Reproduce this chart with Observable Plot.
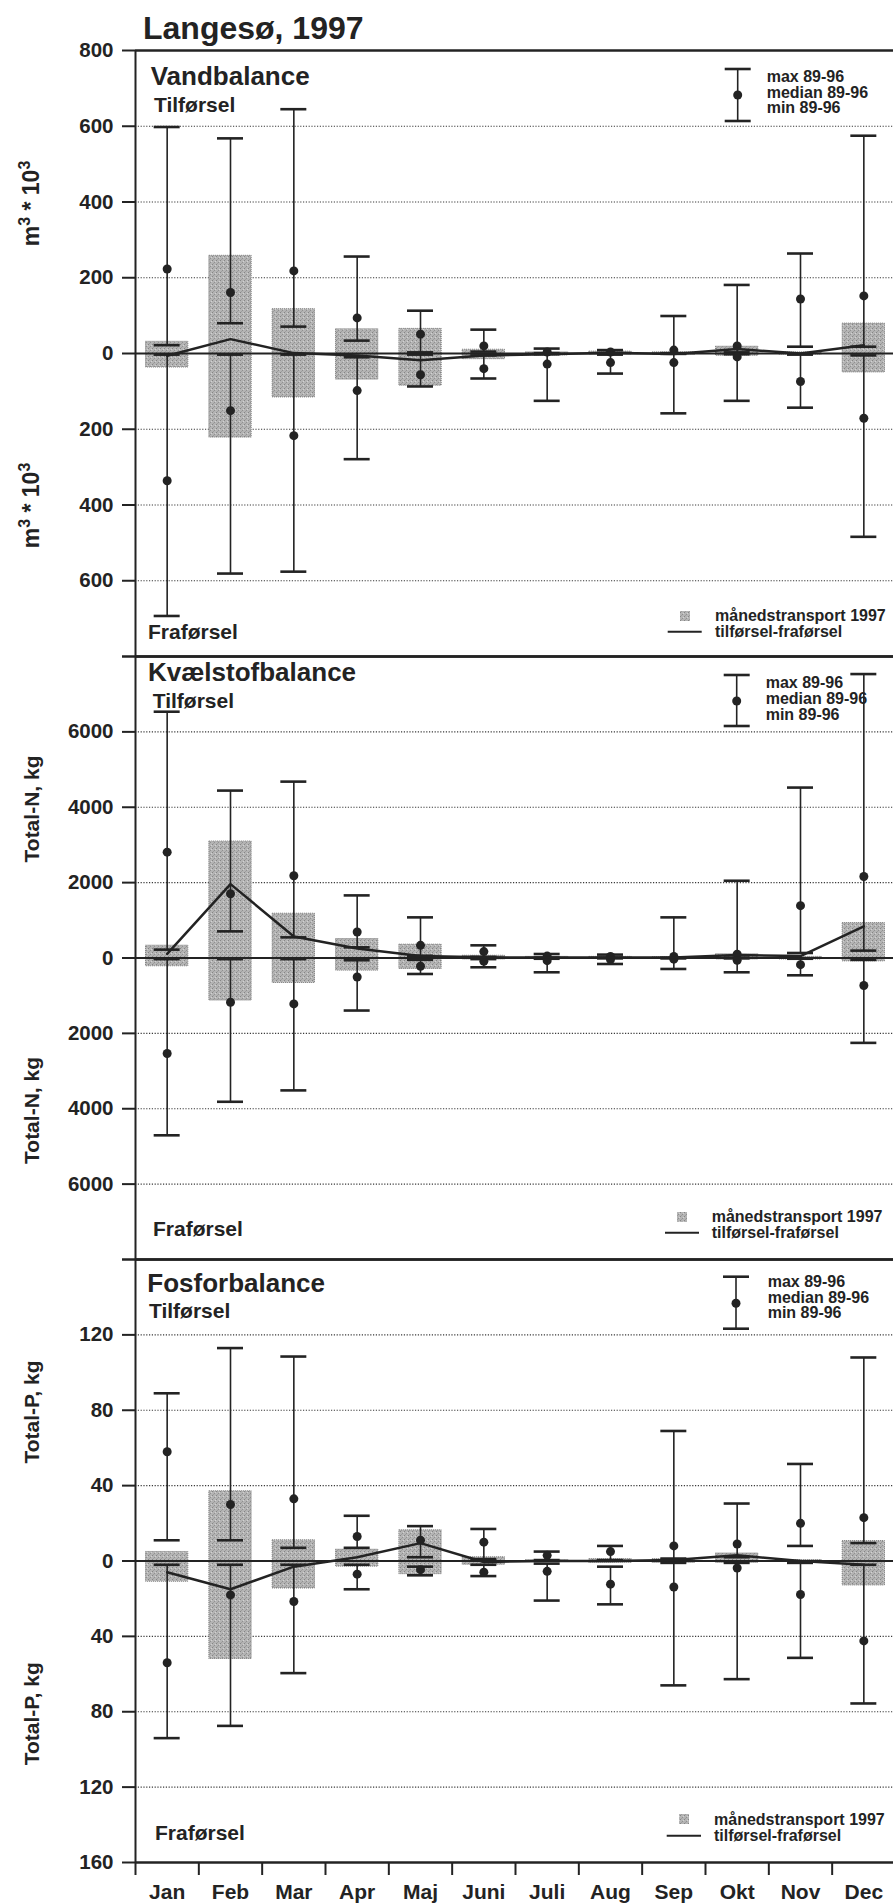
<!DOCTYPE html>
<html><head><meta charset="utf-8">
<script src="https://cdn.jsdelivr.net/npm/d3@7"></script>
<script src="https://cdn.jsdelivr.net/npm/@observablehq/plot@0.6"></script>
<style>
body{margin:0;background:#fff;}
#wrap{position:relative;width:893px;height:1904px;overflow:hidden;background:#fff;}
.pane{position:absolute;left:0;}
</style></head><body>
<svg width="0" height="0" style="position:absolute">
<defs><pattern id="stip" width="4" height="4" patternUnits="userSpaceOnUse">
<rect width="4" height="4" fill="#b4b4b4"/>
<rect x="0" y="0" width="1" height="1" fill="#858585"/>
<rect x="2" y="2" width="1" height="1" fill="#909090"/>
<rect x="3" y="1" width="1" height="1" fill="#d2d2d2"/>
<rect x="1" y="3" width="1" height="1" fill="#9e9e9e"/>
</pattern></defs></svg>
<div id="wrap"></div>
<script>
const months = ["Jan","Feb","Mar","Apr","Maj","Juni","Juli","Aug","Sep","Okt","Nov","Dec"];

// Vandbalance (m3*10^3)
const vandInMax  = [598, 568, 645, 256, 113, 63, 13, 9, 99, 181, 264, 575];
const vandInMed  = [223, 161, 218, 94, 51, 20, 4, 4, 9, 20, 144, 152];
const vandInMin  = [22, 80, 71, 34, 3, 5, 1, 1, 1, 3, 18, 18];
const vandOutMin = [-3, -3, -3, -10, -3, -5, -2, -3, -1, -2, -3, -5];
const vandOutMed = [-336, -151, -217, -98, -56, -40, -28, -24, -24, -9, -74, -171];
const vandOutMax = [-693, -581, -576, -279, -87, -66, -125, -53, -158, -125, -143, -484];
const vand1997In  = [31, 258, 117, 64, 65, 10, 3, 5, 3, 18, 3, 79];
const vand1997Out = [-37, -222, -116, -69, -85, -15, -5, -3, -4, -6, -3, -50];
const vandNet     = [-6, 38, 1, -5, -18, -5, -2, 2, -1, 12, 0, 22];
const vandTicks = [-800,-600,-400,-200,0,200,400,600,800];

// Kvælstofbalance (Total-N, kg)
const nInMax  = [6535, 4442, 4680, 1661, 1078, 336, 106, 90, 1078, 2050, 4522, 7534];
const nInMed  = [2808, 1706, 2182, 689, 336, 170, 50, 40, 40, 100, 1388, 2164];
const nInMin  = [222, 707, 548, 283, 60, 30, 10, 10, 5, 10, 133, 196];
const nOutMin = [-30, -30, -30, -60, -50, -30, -20, -10, -10, -10, -20, -50];
const nOutMed = [-2533, -1174, -1218, -503, -220, -87, -70, -40, -30, -60, -177, -731];
const nOutMax = [-4705, -3815, -3513, -1394, -424, -246, -379, -159, -291, -379, -459, -2252];
const n1997In  = [328, 3091, 1176, 504, 354, 60, 30, 30, 20, 100, 30, 927];
const n1997Out = [-220, -1129, -662, -335, -291, -40, -20, -20, -20, -40, -40, -90];
const nNet     = [110, 1960, 570, 250, 50, 20, 10, 10, 10, 80, 50, 840];
const nTicks = [-8000,-6000,-4000,-2000,0,2000,4000,6000,8000];

// Fosforbalance (Total-P, kg)
const pInMax  = [89, 113, 108.5, 24, 18.5, 17, 5, 8, 69, 30.5, 51.5, 108];
const pInMed  = [58, 30, 33, 13, 11, 10, 3, 5, 8, 9, 20, 23];
const pInMin  = [11, 11, 7, 7, 2, 1, 0.5, 0.5, 1.3, 2, 8, 9.5];
const pOutMin = [-2, -2, -2, -2, -3, -2, -1.4, -3, -1, -1, -1, -2];
const pOutMed = [-54, -18, -21.5, -7, -4.6, -6, -5.5, -12.3, -13.8, -3.7, -17.8, -42.4];
const pOutMax = [-94, -87.5, -59.5, -15, -7.6, -8, -21, -23, -66, -62.7, -51.4, -75.6];
const p1997In  = [4.8, 37, 11, 6, 16.3, 2, 0.5, 1, 1, 4, 0.5, 10.6];
const p1997Out = [-11, -52, -14.6, -3, -7, -2, -0.5, -1, -1, -1, -0.5, -13];
const pNet     = [-6, -15, -3, 2, 9.5, -0.5, 0, 0, 0.5, 3, 0, -2];
const pTicks = [-160,-120,-80,-40,0,40,80,120,160];

const INK = "#232323";
const W = 893, ML = 135, MR = -2;
const BW = (W - ML - MR) / months.length;
const FONT = "'Liberation Sans', Arial, Helvetica, sans-serif";

function deco(cfg) {
  return () => {
    const off = cfg.top;
    const g = d3.create("svg:g").attr("fill", INK).attr("font-weight", "bold")
      .attr("font-family", FONT).attr("text-anchor", "start");
    const T = (x, y, s, size) => g.append("text").attr("x", x).attr("y", y - off).attr("font-size", size).text(s);
    if (cfg.title) T(143, 39, cfg.title, 32);
    T(cfg.head[0], cfg.head[1], cfg.headText, 26);
    T(cfg.til[0], cfg.til[1], "Tilførsel", 21);
    T(cfg.fra[0], cfg.fra[1], "Fraførsel", 21);
    // rotated axis labels
    for (const cy of cfg.ylY) {
      const t = g.append("text")
        .attr("transform", `translate(39,${cy - off}) rotate(-90)`)
        .attr("text-anchor", "middle").attr("font-size", cfg.ylSup ? 23 : 21);
      if (cfg.ylSup) {
        t.append("tspan").text("m");
        t.append("tspan").attr("dy", -9).attr("font-size", 16).text("3");
        t.append("tspan").attr("dy", 9).text(" * 10");
        t.append("tspan").attr("dy", -9).attr("font-size", 16).text("3");
      } else t.text(cfg.ylText);
    }
    // legend top (error bar icon)
    const L = cfg.legTop;
    g.append("line").attr("x1", L.x).attr("x2", L.x).attr("y1", L.c1 - off).attr("y2", L.c2 - off).attr("stroke", INK).attr("stroke-width", 1.6);
    for (const cy of [L.c1, L.c2]) g.append("line").attr("x1", L.x - 13).attr("x2", L.x + 13).attr("y1", cy - off).attr("y2", cy - off).attr("stroke", INK).attr("stroke-width", 2.6);
    g.append("circle").attr("cx", L.x).attr("cy", L.d - off).attr("r", 4.5);
    ["max 89-96", "median 89-96", "min 89-96"].forEach((s, i) => T(L.tx, L.ty[i], s, 16));
    // legend bottom
    const B = cfg.legBot;
    g.append("rect").attr("x", B.sx - 5).attr("y", B.sy - 5 - off).attr("width", 10).attr("height", 10).attr("fill", "url(#stip)");
    g.append("line").attr("x1", B.l1).attr("x2", B.l2).attr("y1", B.ly - off).attr("y2", B.ly - off).attr("stroke", INK).attr("stroke-width", 2);
    T(B.tx, B.ty[0], "månedstransport 1997", 16);
    T(B.tx, B.ty[1], "tilførsel-fraførsel", 16);
    return g.node();
  };
}

function buildPanel(cfg) {
  const rows = months.map((m, i) => ({
    m, inMax: cfg.inMax[i], inMed: cfg.inMed[i], inMin: cfg.inMin[i],
    outMin: cfg.outMin[i], outMed: cfg.outMed[i], outMax: cfg.outMax[i],
    barIn: cfg.barIn[i], barOut: cfg.barOut[i], net: cfg.net[i]
  }));
  const caps = rows.flatMap(r => [r.inMax, r.inMin, r.outMin, r.outMax].map(v => ({m: r.m, v})));
  const meds = rows.flatMap(r => [r.inMed, r.outMed].map(v => ({m: r.m, v})));
  const lo = cfg.ticks[0], hi = cfg.ticks[cfg.ticks.length - 1];
  const grid = cfg.ticks.filter(t => t !== 0 && t !== lo && t !== hi);
  const barInset = 10.5, capInset = (BW - 26) / 2;
  const marks = [
    Plot.ruleY(grid, {stroke: "#3a3a3a", strokeWidth: 1.1, strokeDasharray: "1.2,1.6"}),
    Plot.barY(rows, {x: "m", y1: "barOut", y2: "barIn", fill: "url(#stip)", stroke: "#7c7c7c", strokeWidth: 1, strokeDasharray: "1,1",
      insetLeft: barInset, insetRight: barInset}),
    Plot.ruleY([0], {stroke: INK, strokeWidth: 2}),
    Plot.ruleX(rows, {x: "m", y1: "inMin", y2: "inMax", stroke: INK, strokeWidth: 1.6}),
    Plot.ruleX(rows, {x: "m", y1: "outMin", y2: "outMax", stroke: INK, strokeWidth: 1.6}),
    Plot.tickY(caps, {x: "m", y: "v", stroke: INK, strokeWidth: 2.6, insetLeft: capInset, insetRight: capInset}),
    Plot.dot(meds, {x: "m", y: "v", r: 4.5, fill: INK}),
    Plot.line(rows, {x: "m", y: "net", stroke: INK, strokeWidth: 2.5}),
    Plot.ruleY([lo, hi], {stroke: INK, strokeWidth: 2.5}),
    Plot.ruleX([months[0]], {dx: -BW / 2, stroke: INK, strokeWidth: 2}),
    Plot.axisY(cfg.ticks, {tickSize: 13, tickPadding: 9, color: INK, strokeWidth: 2, fontSize: 20.5, label: null,
      tickFormat: t => cfg.hide.includes(t) ? "" : String(Math.abs(t))}),
    deco(cfg)
  ];
  if (cfg.xAxis) {
    marks.push(
      Plot.axisX(months, {tickSize: 13, tickFormat: () => "", dx: -BW / 2, color: INK, strokeWidth: 2, label: null}),
      Plot.axisX(months, {tickSize: 0, tickPadding: 22, fontSize: 21, color: INK, label: null})
    );
  }
  const svg = Plot.plot({
    width: W, height: cfg.height,
    marginLeft: ML, marginRight: MR, marginTop: cfg.mt, marginBottom: cfg.mb,
    x: {type: "band", domain: months, padding: 0, round: false, axis: cfg.xAxis ? undefined : null},
    y: {domain: [lo, hi]},
    style: {background: "transparent", overflow: "visible", fontFamily: FONT, fontWeight: "bold", color: INK},
    marks
  });
  const div = document.createElement("div");
  div.className = "pane";
  div.style.top = cfg.top + "px";
  div.appendChild(svg);
  document.getElementById("wrap").appendChild(div);
}

buildPanel({
  top: 0, height: 660, mt: 50, mb: 4, ticks: vandTicks, hide: [-800],
  inMax: vandInMax, inMed: vandInMed, inMin: vandInMin, outMin: vandOutMin, outMed: vandOutMed, outMax: vandOutMax,
  barIn: vand1997In, barOut: vand1997Out, net: vandNet,
  title: "Langesø, 1997", headText: "Vandbalance", head: [150.7, 85], til: [154, 112], fra: [148, 639],
  ylSup: true, ylY: [203.5, 505.5],
  legTop: {x: 737.7, c1: 69, c2: 121, d: 95, tx: 766.7, ty: [82, 97.5, 113]},
  legBot: {sx: 685, sy: 616, l1: 667.7, l2: 701.7, ly: 631.7, tx: 715, ty: [621, 636.7]}
});
buildPanel({
  top: 652, height: 611, mt: 4, mb: 4, ticks: nTicks, hide: [-8000, 8000],
  inMax: nInMax, inMed: nInMed, inMin: nInMin, outMin: nOutMin, outMed: nOutMed, outMax: nOutMax,
  barIn: n1997In, barOut: n1997Out, net: nNet,
  headText: "Kvælstofbalance", head: [148, 680.7], til: [152.7, 707.7], fra: [153, 1236],
  ylText: "Total-N, kg", ylY: [809, 1110.5],
  legTop: {x: 736.7, c1: 675, c2: 726, d: 701, tx: 765.7, ty: [688, 704, 720]},
  legBot: {sx: 682, sy: 1217, l1: 665, l2: 699, ly: 1232.7, tx: 711.7, ty: [1221.7, 1237.7]}
});
buildPanel({
  top: 1255, height: 649, mt: 4, mb: 42, ticks: pTicks, hide: [160], xAxis: true,
  inMax: pInMax, inMed: pInMed, inMin: pInMin, outMin: pOutMin, outMed: pOutMed, outMax: pOutMax,
  barIn: p1997In, barOut: p1997Out, net: pNet,
  headText: "Fosforbalance", head: [147.3, 1291.7], til: [149, 1318.3], fra: [155, 1840],
  ylText: "Total-P, kg", ylY: [1412, 1713.8],
  legTop: {x: 736, c1: 1276.7, c2: 1328.7, d: 1303.3, tx: 767.7, ty: [1286.7, 1302.7, 1318.3]},
  legBot: {sx: 684, sy: 1819, l1: 666.7, l2: 701, ly: 1835.7, tx: 714, ty: [1825, 1840.7]}
});
</script>
</body></html>
